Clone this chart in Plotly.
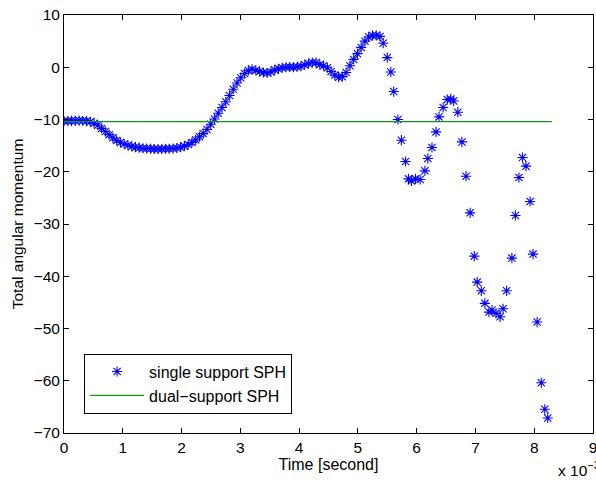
import plotly.graph_objects as go

# Time (x 1e-3 s) and total angular momentum for the single-support SPH run
t_single = [
    0.000, 0.064, 0.128, 0.192, 0.256, 0.320, 0.384, 0.448, 0.512, 0.576,
    0.640, 0.704, 0.768, 0.832, 0.896, 0.960, 1.024, 1.088, 1.152, 1.216,
    1.280, 1.344, 1.408, 1.472, 1.536, 1.600, 1.664, 1.728, 1.792, 1.856,
    1.920, 1.984, 2.048, 2.112, 2.176, 2.240, 2.304, 2.368, 2.432, 2.496,
    2.560, 2.624, 2.688, 2.752, 2.816, 2.880, 2.944, 3.008, 3.072, 3.136,
    3.200, 3.264, 3.328, 3.392, 3.456, 3.520, 3.584, 3.648, 3.712, 3.776,
    3.840, 3.904, 3.968, 4.032, 4.096, 4.160, 4.224, 4.288, 4.352, 4.416,
    4.480, 4.544, 4.608, 4.672, 4.736, 4.800, 4.864, 4.928, 4.992, 5.056,
    5.120, 5.184, 5.248, 5.312, 5.376,
    5.43, 5.50, 5.56, 5.61, 5.68, 5.74, 5.81, 5.86, 5.91, 5.98,
    6.06, 6.14, 6.19, 6.26, 6.33, 6.38, 6.45, 6.52, 6.58, 6.63,
    6.70, 6.77, 6.84, 6.91, 6.98, 7.03, 7.10, 7.16, 7.23, 7.28,
    7.35, 7.42, 7.47, 7.53, 7.62, 7.68, 7.74, 7.80, 7.86, 7.93,
    7.98, 8.05, 8.12, 8.18, 8.23,
]
L_single = [
    -10.3, -10.3, -10.25, -10.25, -10.2, -10.25, -10.3, -10.45, -10.7, -11.1,
    -11.7, -12.3, -12.9, -13.5, -14.0, -14.4, -14.7, -14.95, -15.15, -15.3,
    -15.4, -15.5, -15.55, -15.6, -15.65, -15.65, -15.65, -15.6, -15.6, -15.55,
    -15.45, -15.3, -15.1, -14.8, -14.4, -13.9, -13.3, -12.7, -11.9, -10.9,
    -9.9, -8.8, -7.7, -6.6, -5.4, -4.2, -3.0, -2.0, -1.2, -0.6,
    -0.4, -0.6, -0.8, -1.0, -1.1, -0.9, -0.5, -0.3, -0.1, 0.0,
    0.05, 0.0, 0.1, 0.2, 0.5, 0.7, 0.9, 0.9, 0.5, 0.3,
    -0.1, -0.8, -1.5, -1.9, -1.8, -1.0, 0.3, 1.5, 2.6, 3.8,
    5.0, 5.8, 6.1, 6.1, 5.9,
    4.6, 1.85, -0.9, -4.65, -10.0, -13.96, -18.04, -21.36, -21.75, -21.36,
    -21.48, -19.83, -17.46, -15.36, -12.37, -9.5, -7.7, -6.18, -6.06, -6.45,
    -8.6, -14.29, -20.85, -27.87, -36.15, -41.12, -42.78, -45.19, -46.86, -46.47,
    -47.1, -47.76, -46.22, -42.78, -36.53, -28.36, -21.1, -17.27, -18.93, -25.69,
    -35.76, -48.77, -60.38, -65.46, -67.13,
]

# Dual-support SPH: constant total angular momentum
t_dual = [0.0, 8.30]
L_dual = [-10.4, -10.4]

x_ticks = [0, 1, 2, 3, 4, 5, 6, 7, 8, 9]
y_ticks = [10, 0, -10, -20, -30, -40, -50, -60, -70]
y_ticktext = ["10", "0", "\u221210", "\u221220", "\u221230", "\u221240", "\u221250", "\u221260", "\u221270"]

FONT = "Liberation Sans, Arial, Helvetica, sans-serif"

fig = go.Figure()
fig.add_trace(go.Scatter(
    x=t_single, y=L_single, mode="markers", name="single support SPH",
    marker=dict(symbol="asterisk-open", size=8.5, color="rgb(0,0,255)",
                line=dict(color="rgb(0,0,255)", width=1.1)),
))
fig.add_trace(go.Scatter(
    x=t_dual, y=L_dual, mode="lines", name="dual\u2212support SPH",
    line=dict(color="rgb(20,150,20)", width=1.2),
))

axis_common = dict(
    showline=True, linecolor="black", linewidth=1, mirror="ticks",
    ticks="inside", ticklen=5, tickcolor="black", tickwidth=1,
    showgrid=False, zeroline=False, automargin=False,
    ticklabeloverflow="allow",
    tickfont=dict(family=FONT, size=15.5, color="black"),
)

fig.update_layout(
    width=596, height=488,
    margin=dict(l=64, r=3, t=15, b=55, autoexpand=False),
    paper_bgcolor="white", plot_bgcolor="white",
    font=dict(family=FONT, size=16, color="black"),
    xaxis=dict(range=[0, 9], tickvals=x_ticks,
               title=dict(text="Time [second]", font=dict(family=FONT, size=16), standoff=2),
               **axis_common),
    yaxis=dict(range=[-70, 10], tickvals=y_ticks, ticktext=y_ticktext,
               title=dict(text="Total angular momentum", font=dict(family=FONT, size=15.5), standoff=6),
               **axis_common),
    legend=dict(
        x=0.038, y=0.19, xanchor="left", yanchor="top",
        bgcolor="white", bordercolor="black", borderwidth=1,
        font=dict(family=FONT, size=16, color="black"),
        itemwidth=54, tracegroupgap=0,
    ),
    showlegend=True,
    annotations=[dict(
        text="x 10<sup>\u22123</sup>", x=0.930, y=-0.085, xref="paper", yref="paper",
        xanchor="left", yanchor="middle", showarrow=False,
        font=dict(family=FONT, size=15.5, color="black"),
    )],
)

fig.write_html(
    "out.html",
    config={"displayModeBar": False},
    post_script="document.body.style.margin='0';document.body.style.overflow='hidden';",
)
